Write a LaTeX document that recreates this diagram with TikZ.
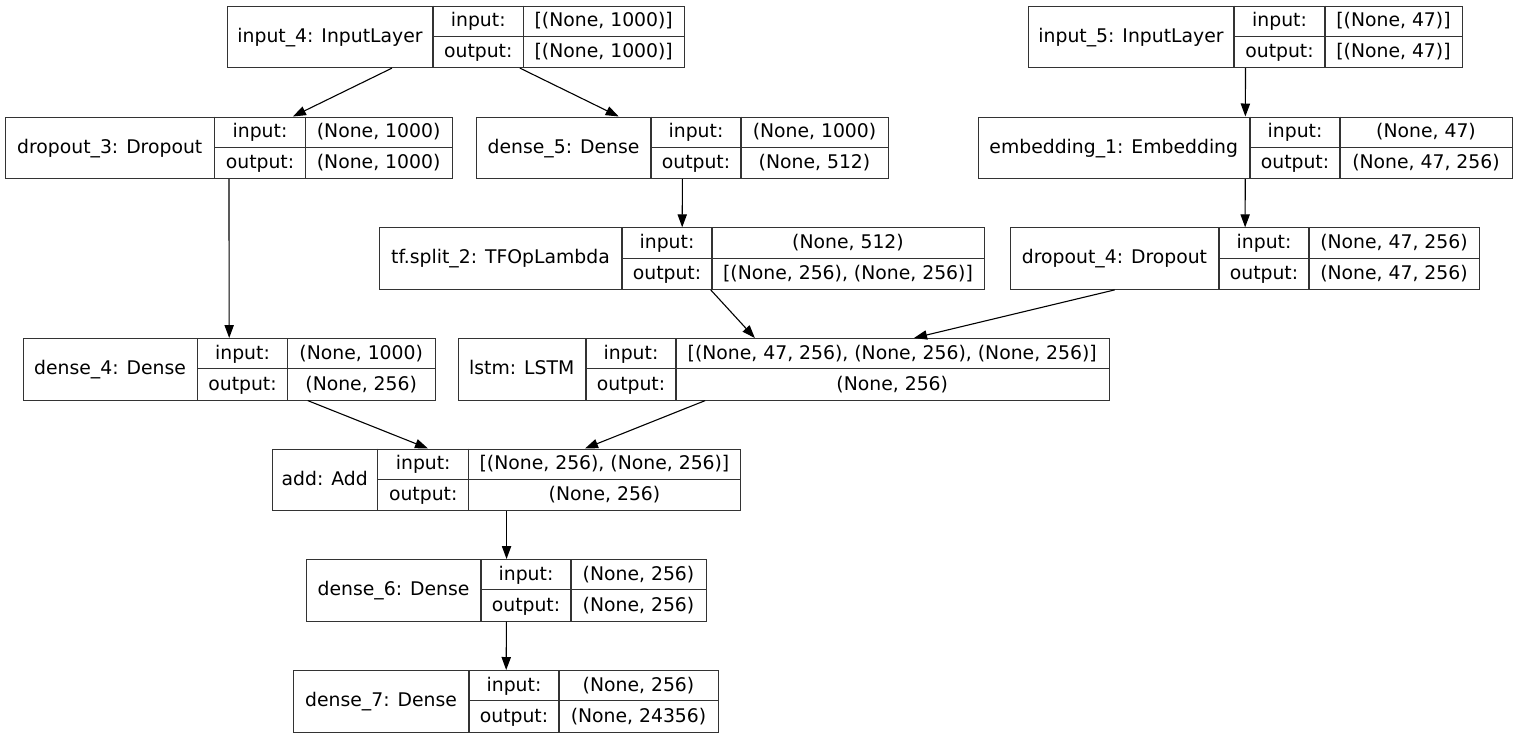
\documentclass[tikz,border=0pt]{standalone}
\usepackage{fontspec}
\setmainfont{DejaVu Sans}
\usetikzlibrary{arrows.meta}
\newcommand{\layer}[9]{%
  \node[rec, minimum width=#5-#2, anchor=north west] (#1) at (#2,#6) {};
  \draw[cell] (#3,#6) -- ++(0,61.5) (#4,#6) -- ++(0,61.5) (#3,#6+30.75) -- (#5,#6+30.75);
  \node[txt] (#1-name) at ({(#2+#3)/2},#6+36.5) {#7};
  \node[txt] (#1-in) at ({(#3+#4)/2},#6+21.3) {input:};
  \node[txt] (#1-inval) at ({(#4+#5)/2},#6+21.3) {#8};
  \node[txt] (#1-out) at ({(#3+#4)/2},#6+52.3) {output:};
  \node[txt] (#1-outval) at ({(#4+#5)/2},#6+52.3) {#9};
}
\begin{document}
\begin{tikzpicture}[x=1pt, y=-1pt,
    rec/.style={draw=black!80, line width=1.1pt, minimum height=61.5, inner sep=0},
    cell/.style={draw=black!80, line width=1.1pt},
    txt/.style={anchor=base, inner sep=0, font=\fontsize{18.8}{22}\selectfont},
    edge/.style={line width=1.1pt, -{Triangle[length=13pt,width=9.3pt]}}]
\useasboundingbox (0,0) rectangle (1517,737);
\layer{input4}{227}{433}{523.5}{684}{5.5}{input\_4: InputLayer}{[(None, 1000)]}{[(None, 1000)]}
\layer{input5}{1028}{1234}{1325}{1462}{5.5}{input\_5: InputLayer}{[(None, 47)]}{[(None, 47)]}
\layer{dropout3}{4.7}{214.7}{305.3}{452}{116.5}{dropout\_3: Dropout}{(None, 1000)}{(None, 1000)}
\layer{dense5}{476}{651}{741}{888}{116.5}{dense\_5: Dense}{(None, 1000)}{(None, 512)}
\layer{embed1}{977.5}{1250}{1340}{1512}{116.5}{embedding\_1: Embedding}{(None, 47)}{(None, 47, 256)}
\layer{split2}{379}{622}{712}{984}{227.3}{tf.split\_2: TFOpLambda}{(None, 512)}{[(None, 256), (None, 256)]}
\layer{dropout4}{1010}{1219}{1309}{1479}{227.3}{dropout\_4: Dropout}{(None, 47, 256)}{(None, 47, 256)}
\layer{dense4}{22.7}{197.3}{287.7}{434.7}{338}{dense\_4: Dense}{(None, 1000)}{(None, 256)}
\layer{lstm}{457.5}{586}{676}{1108.5}{338}{lstm: LSTM}{[(None, 47, 256), (None, 256), (None, 256)]}{(None, 256)}
\layer{add}{271.7}{377.7}{468.7}{740.3}{448.5}{add: Add}{[(None, 256), (None, 256)]}{(None, 256)}
\layer{dense6}{306}{481}{571}{706}{559}{dense\_6: Dense}{(None, 256)}{(None, 256)}
\layer{dense7}{293}{469}{559}{718}{670}{dense\_7: Dense}{(None, 256)}{(None, 24356)}
\draw[edge] (input4) -- (dropout3);
\draw[edge] (input4) -- (dense5);
\draw[edge] (input5) -- (embed1);
\draw[edge] (dropout3) -- (dense4);
\draw[edge] (dense5) -- (split2);
\draw[edge] (embed1) -- (dropout4);
\draw[edge] (split2) -- (lstm);
\draw[edge] (dropout4) -- (lstm);
\draw[edge] (dense4) -- (add);
\draw[edge] (lstm) -- (add);
\draw[edge] (add) -- (dense6);
\draw[edge] (dense6) -- (dense7);
\end{tikzpicture}
\end{document}
